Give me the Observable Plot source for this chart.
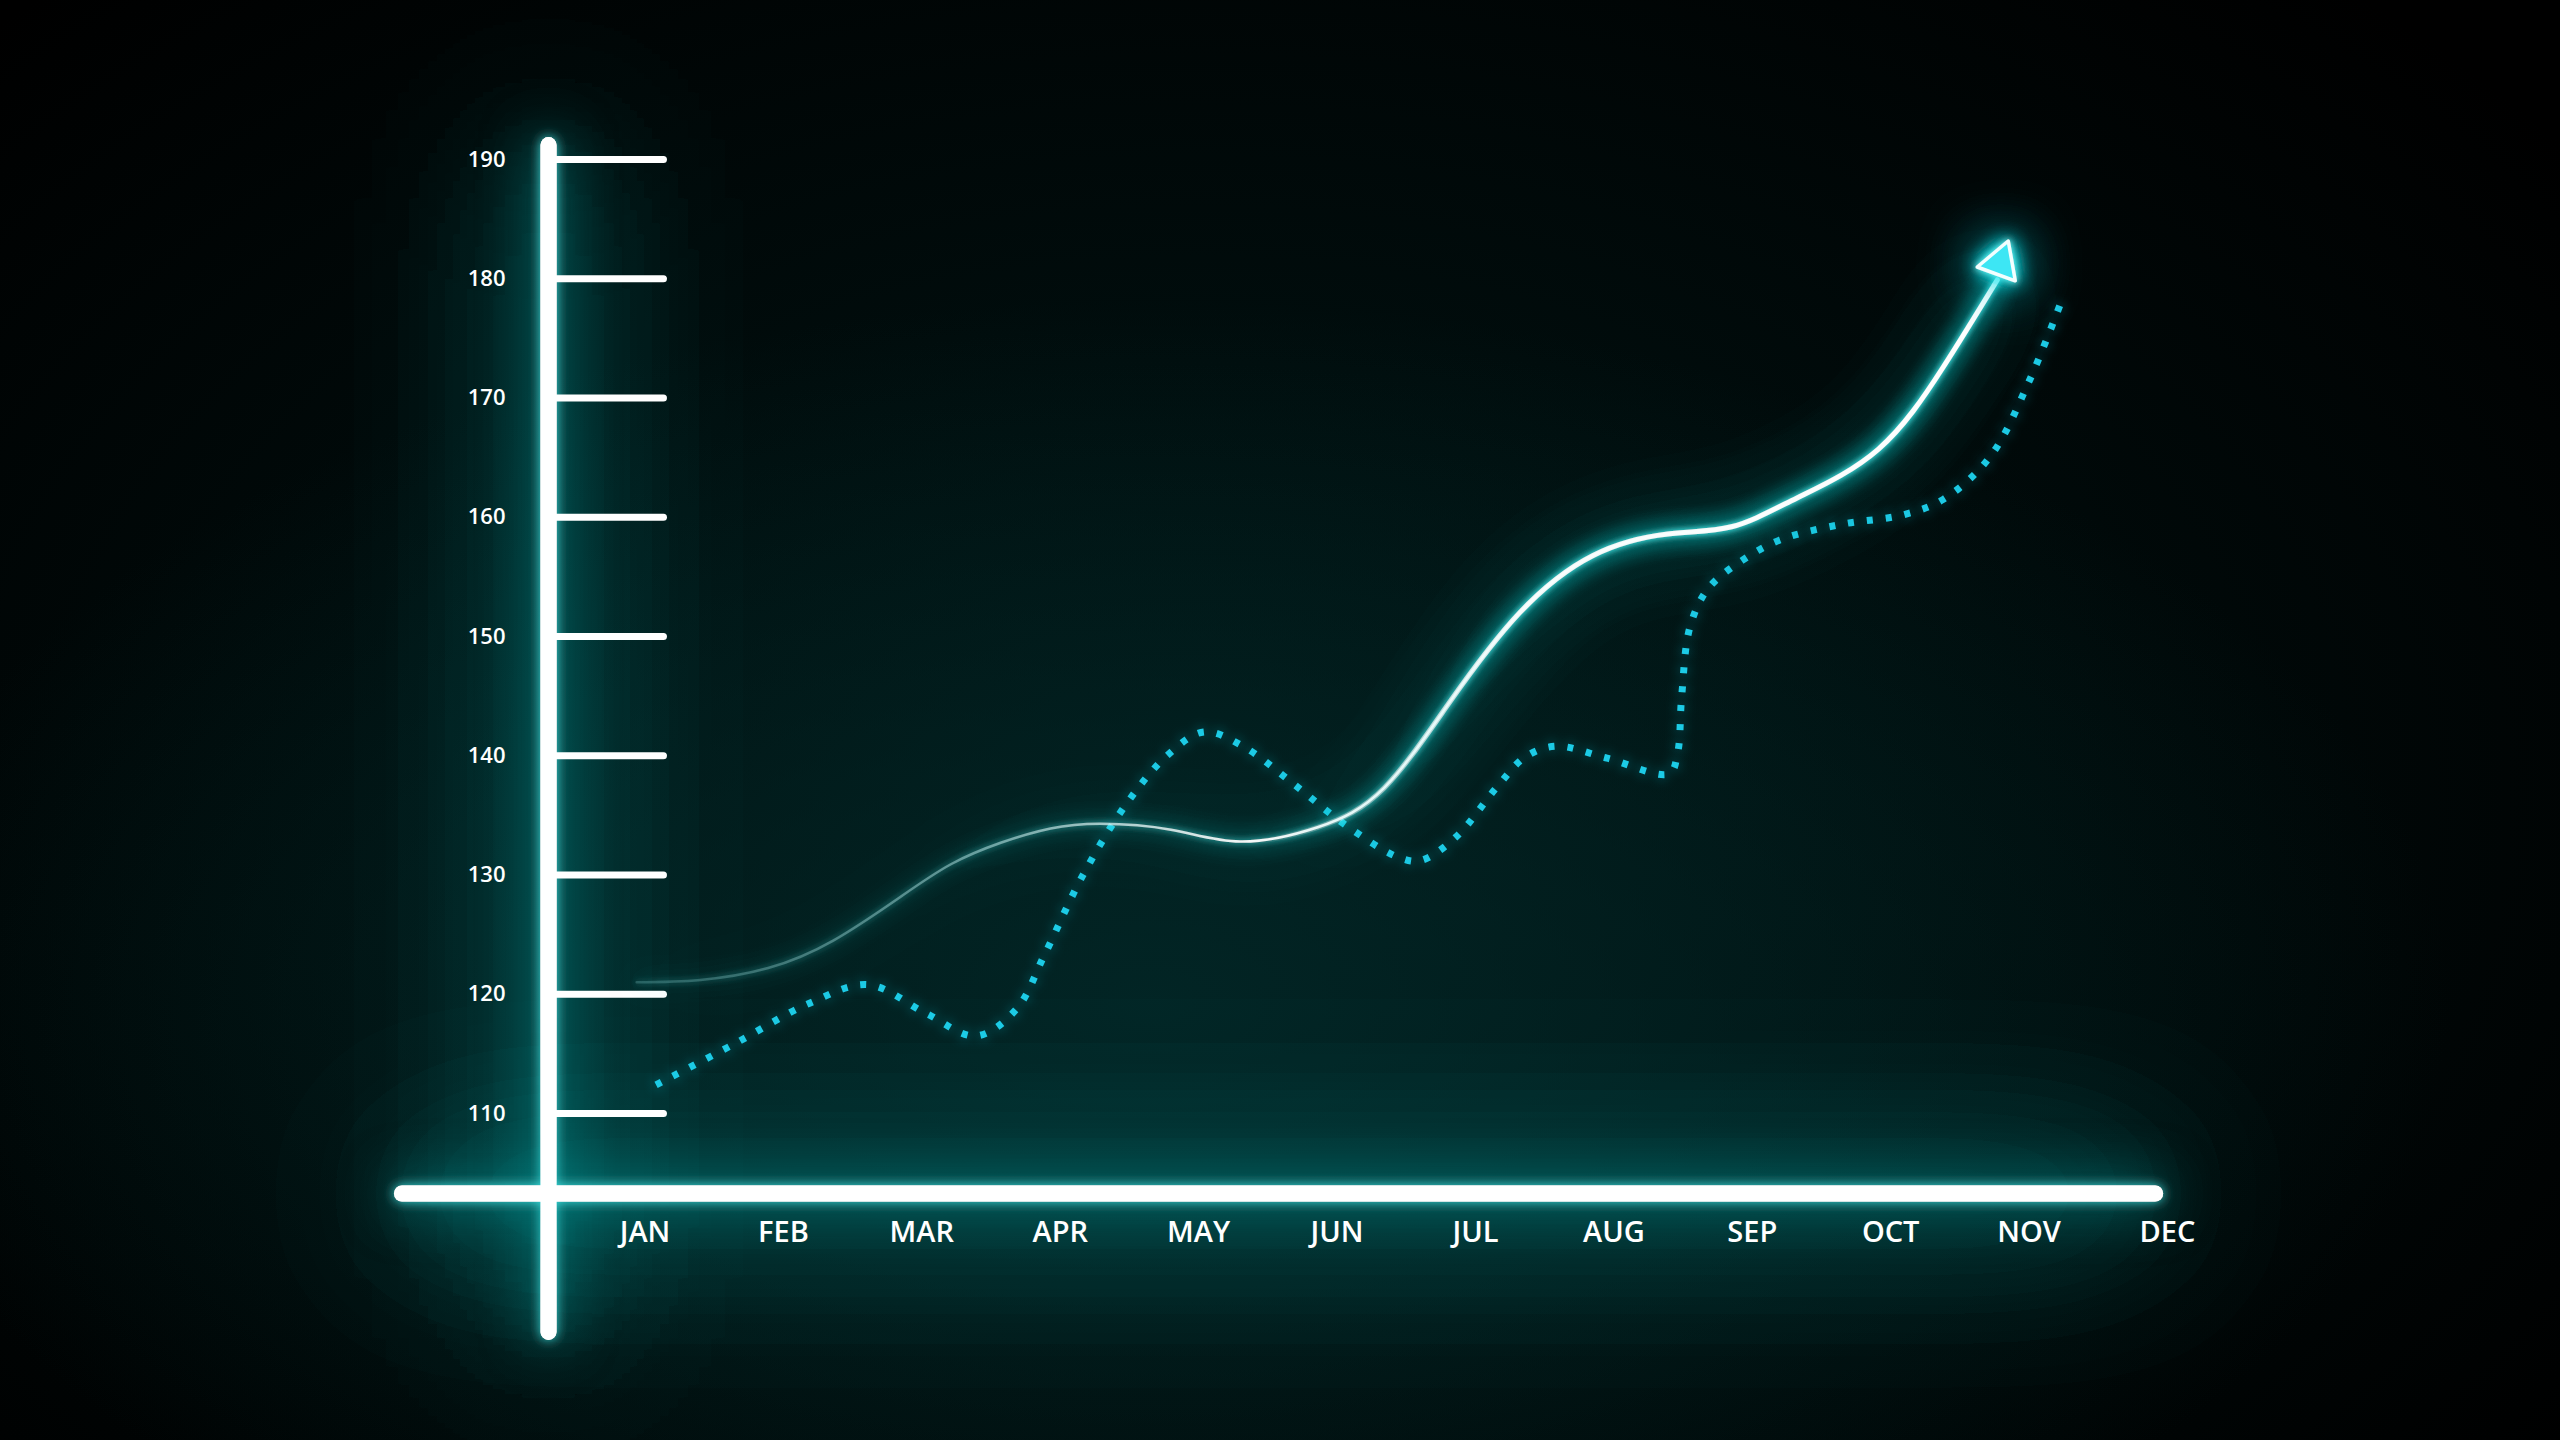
<!DOCTYPE html>
<html>
<head>
<meta charset="utf-8">
<script src="https://cdn.jsdelivr.net/npm/d3@7"></script>
<script src="https://cdn.jsdelivr.net/npm/@observablehq/plot@0.6"></script>
<style>
  html, body { margin: 0; padding: 0; background: #000; }
  body {
    width: 2560px; height: 1440px; overflow: hidden;
    background:
      radial-gradient(ellipse 1300px 700px at 1150px 1000px, rgba(2,40,40,0.85), rgba(0,0,0,0) 100%),
      radial-gradient(ellipse 1700px 1100px at 1200px 800px, rgba(1,24,24,0.9), rgba(0,0,0,0) 100%),
      #000;
  }
  #chart svg { display: block; overflow: visible; }
  g[aria-label="x-axis tick label"] text { font-family: "Open Sans", sans-serif; font-weight: 600; font-size: 29px; }
  g[aria-label="y-axis tick label"] text { font-family: "Open Sans", sans-serif; font-weight: 600; font-size: 22px; }
</style>
</head>
<body>
<div id="chart"></div>
<script>
// ---- data (x = month index, 0 = JAN) ----
const months = ["JAN", "FEB", "MAR", "APR", "MAY", "JUN", "JUL", "AUG", "SEP", "OCT", "NOV", "DEC"];
const yTicks = [110, 120, 130, 140, 150, 160, 170, 180, 190];

const solidX = [-0.06, 0.40, 0.89, 1.36, 1.85, 2.21, 2.57, 2.93, 3.29, 3.80, 4.30, 4.86, 5.34, 5.82, 6.32, 6.85, 7.39, 7.85, 8.32, 8.91, 9.38, 9.77];
const solidY = [121.0, 121.2, 122.2, 124.5, 128.2, 130.9, 132.7, 133.9, 134.3, 133.8, 132.8, 134.0, 137.3, 144.6, 152.0, 156.8, 158.6, 159.2, 161.6, 165.7, 172.6, 179.9];

const dottedX = [0.08, 0.64, 1.18, 1.61, 2.03, 2.39, 2.68, 2.89, 3.16, 3.48, 3.78, 4.04, 4.32, 4.69, 5.06, 5.44, 5.60, 5.86, 6.15, 6.36, 6.58, 6.95, 7.40, 7.46, 7.49, 7.55, 7.68, 7.93, 8.20, 8.64, 9.09, 9.38, 9.72, 10.00, 10.23];
const dottedY = [112.4, 115.8, 119.2, 120.8, 118.4, 116.5, 118.7, 123.4, 129.9, 136.0, 140.1, 142.0, 140.8, 137.6, 134.2, 131.5, 131.2, 133.2, 137.3, 139.9, 140.8, 139.8, 138.5, 140.2, 145.0, 150.8, 154.0, 156.4, 158.1, 159.4, 160.2, 161.5, 165.1, 171.4, 178.0];

// ---- layout of the decorative axis bars (in scale units) ----
const frame = {
  yBarX: -0.697, yBarTop: 191.17, yBarBottom: 91.64,
  xBarY: 103.29, xBarLeft: -1.752, xBarRight: 10.914,
  tickX1: -0.64, tickX2: 0.137
};

const solid = solidX.map((x, i) => ({x, y: solidY[i]}));
const dotted = dottedX.map((x, i) => ({x, y: dottedY[i]}));
const tip = solid[solid.length - 1];

// rotated triangle symbol for the arrow head
const arrowHead = {
  draw(context, size) {
    const s = Math.sqrt(4 * size / Math.sqrt(3));
    const h = s * Math.sqrt(3) / 2;
    const a = 20 * Math.PI / 180;
    const pts = [[0, -2 * h / 3], [s / 2, h / 3], [-s / 2, h / 3]]
      .map(([x, y]) => [x * Math.cos(a) - y * Math.sin(a), x * Math.sin(a) + y * Math.cos(a)]);
    context.moveTo(pts[0][0], pts[0][1]);
    context.lineTo(pts[1][0], pts[1][1]);
    context.lineTo(pts[2][0], pts[2][1]);
    context.closePath();
  }
};

const bars = (cls) => [
  Plot.ruleX([frame.yBarX], {x: d => d, y1: frame.yBarBottom, y2: frame.yBarTop, stroke: "#ffffff", strokeWidth: 16, strokeLinecap: "round", className: cls}),
  Plot.ruleY([frame.xBarY], {y: d => d, x1: frame.xBarLeft, x2: frame.xBarRight, stroke: "#ffffff", strokeWidth: 16, strokeLinecap: "round", className: cls})
];

const chart = Plot.plot({
  width: 2560,
  height: 1440,
  marginLeft: 644.5,
  marginRight: 393,
  marginTop: 87.45,
  marginBottom: 231.6,
  x: {domain: [0, 11], label: null},
  y: {domain: [102, 196], label: null},
  style: {background: "transparent", color: "#ffffff", fontFamily: "'Open Sans', sans-serif", overflow: "visible"},
  marks: [
    ...bars("axisglow"),
    ...bars("axisbar"),
    Plot.ruleY(yTicks, {y: d => d, x1: frame.tickX1, x2: frame.tickX2, stroke: "#ffffff", strokeWidth: 7, strokeLinecap: "round"}),
    Plot.axisY(yTicks, {anchor: "left", tickSize: 0, tickPadding: 139.5, fontSize: 22, fontWeight: 600, label: null}),
    Plot.axisX(d3.range(months.length), {anchor: "bottom", tickSize: 0, tickPadding: 13, tickFormat: i => months[i], fontSize: 29, fontWeight: 600, label: null}),
    Plot.line(dotted, {x: "x", y: "y", curve: "catmull-rom", stroke: "#1ccbe6", strokeWidth: 7, strokeDasharray: "6,13", strokeLinecap: "butt", className: "dotline"}),
    Plot.line(solid, {x: "x", y: "y", curve: "natural", stroke: "url(#solidGrad1)", strokeWidth: 2.5, className: "solidline"}),
    Plot.line(solid, {x: "x", y: "y", curve: "natural", stroke: "url(#solidGrad2)", strokeWidth: 5, className: "solidline"}),
    Plot.dot([tip], {x: "x", y: "y", dx: 3, dy: -17, r: 15, symbol: arrowHead, fill: "#3ee6f4", stroke: "#f2ffff", strokeWidth: 3.5, strokeLinejoin: "round", className: "arrowhead"})
  ]
});

document.getElementById("chart").appendChild(chart);

// ---- gradients and glow filters ----
const sx = chart.scale("x");
const svg = d3.select(chart);
const defs = svg.insert("defs", ":first-child");

function grad(id, stops) {
  const g = defs.append("linearGradient").attr("id", id).attr("gradientUnits", "userSpaceOnUse")
    .attr("x1", sx.apply(solidX[0])).attr("x2", sx.apply(solidX[solidX.length - 1])).attr("y1", 0).attr("y2", 0);
  for (const [o, c, a] of stops) g.append("stop").attr("offset", o).attr("stop-color", c).attr("stop-opacity", a);
}
grad("solidGrad1", [[0, "#6fb4b4", 0.3], [0.25, "#a8dede", 0.55], [0.45, "#ffffff", 0.95], [1, "#ffffff", 1]]);
grad("solidGrad2", [[0, "#ffffff", 0], [0.45, "#ffffff", 0], [0.65, "#ffffff", 0.9], [1, "#ffffff", 1]]);

function glow(id, layers, withSource = true) {
  const f = defs.append("filter").attr("id", id).attr("filterUnits", "userSpaceOnUse")
    .attr("x", -100).attr("y", -100).attr("width", 2760).attr("height", 1640);
  const names = [];
  layers.forEach(([sd, color, op, rep], i) => {
    f.append("feGaussianBlur").attr("in", "SourceAlpha").attr("stdDeviation", sd).attr("result", "a" + i);
    f.append("feFlood").attr("flood-color", color).attr("flood-opacity", op).attr("result", "f" + i);
    f.append("feComposite").attr("in", "f" + i).attr("in2", "a" + i).attr("operator", "in").attr("result", "g" + i);
    for (let k = 0; k < rep; k++) names.push("g" + i);
  });
  const m = f.append("feMerge");
  names.forEach(n => m.append("feMergeNode").attr("in", n));
  if (withSource) m.append("feMergeNode").attr("in", "SourceGraphic");
}
glow("glowAxis", [[90, "#00a0a0", 1, 3], [28, "#00b8b8", 0.9, 1], [6, "#40f0f0", 0.9, 1]]);
glow("glowLine", [[40, "#00a8a8", 1, 2], [12, "#00d0d0", 0.9, 2], [3, "#40f4f4", 1, 1]]);
glow("glowDots", [[6, "#10c8e0", 0.6, 1]]);
glow("glowArrow", [[30, "#00c8d8", 1, 2], [10, "#20e8f0", 1, 2], [3, "#60ffff", 1, 1]]);

svg.selectAll("g.axisglow").attr("filter", "url(#glowAxis)");
svg.selectAll("g.solidline").attr("filter", "url(#glowLine)");
svg.selectAll("g.dotline").attr("filter", "url(#glowDots)");
svg.selectAll("g.arrowhead").attr("filter", "url(#glowArrow)");
</script>
</body>
</html>
